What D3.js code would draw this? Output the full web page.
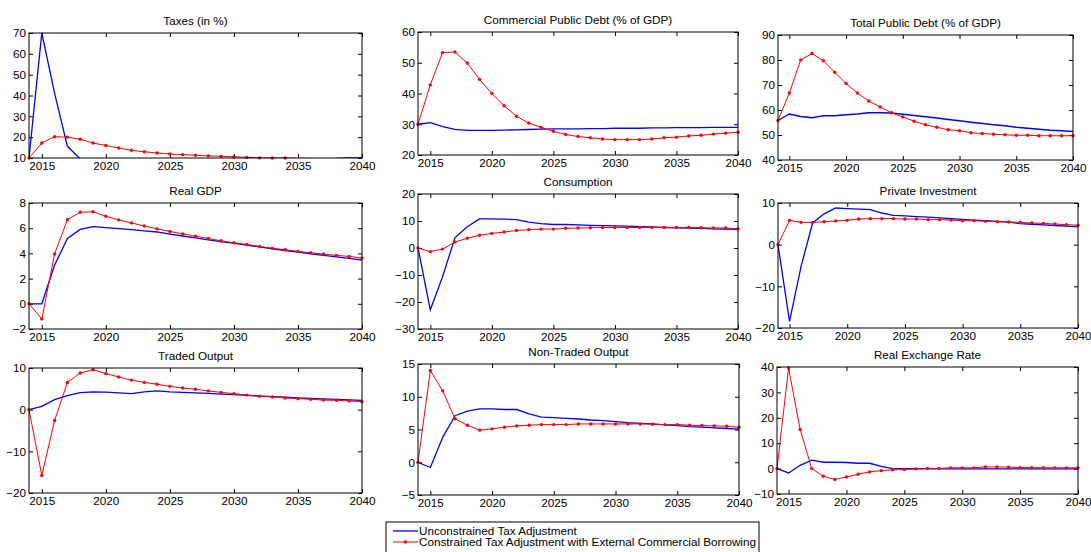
<!DOCTYPE html>
<html>
<head>
<meta charset="utf-8">
<script src="https://cdn.jsdelivr.net/npm/d3@7"></script>
<style>
  body { margin: 0; background: #fff; }
  svg { display: block; }
  text { font-family: "Liberation Sans", Arial, sans-serif; }
</style>
</head>
<body>
<div id="chart"></div>
<script>
"use strict";

// x categories
var years = [2014, 2015, 2016, 2017, 2018, 2019, 2020, 2021, 2022, 2023, 2024, 2025, 2026, 2027,
  2028, 2029, 2030, 2031, 2032, 2033, 2034, 2035, 2036, 2037, 2038, 2039, 2040];
var xTicks = [2015, 2020, 2025, 2030, 2035, 2040];

// series: U = unconstrained tax adjustment, C = constrained with external commercial borrowing
var taxesU = [10, 70, 41, 15.6, 9.6, 8.5, 7.6, 7.2, 7.0, 7.0, 7.1, 7.3, 7.5, 7.7, 7.9, 8.1, 8.3, 8.5, 8.7, 8.9, 9.1, 9.3, 9.5, 9.7, 9.8, 10.05, 10.1];
var taxesC = [10, 17.2, 20.2, 20, 19, 17.2, 16, 14.8, 13.7, 13, 12.4, 11.9, 11.6, 11.3, 11, 10.8, 10.6, 10.3, 10.05, 10.02, 10.0, 9.9, 9.8, 9.75, 9.7, 9.65, 9.6];

var comDebtU = [30, 30.5, 29.2, 28.3, 28, 28, 28, 28.1, 28.2, 28.3, 28.4, 28.5, 28.5, 28.5, 28.6, 28.6, 28.7, 28.7, 28.7, 28.8, 28.8, 28.9, 28.9, 28.9, 29, 29, 29];
var comDebtC = [30, 42.8, 53.3, 53.5, 49.9, 44.6, 40, 36, 32.6, 30.4, 29, 27.7, 26.7, 26, 25.6, 25.2, 25, 25, 25, 25.2, 25.6, 25.8, 26.2, 26.4, 26.8, 27.1, 27.4];

var totDebtU = [55.8, 58.4, 57.4, 56.9, 57.7, 57.7, 58.1, 58.4, 58.9, 58.9, 58.8, 58.3, 57.8, 57.3, 56.8, 56.2, 55.7, 55.1, 54.6, 54.1, 53.7, 53.1, 52.7, 52.3, 51.9, 51.7, 51.4];
var totDebtC = [55.8, 66.8, 80, 82.6, 79.7, 75.1, 70.6, 66.8, 63.6, 61.2, 58.9, 57.2, 55.5, 54.1, 53.1, 52.1, 51.7, 50.9, 50.6, 50.3, 50.1, 49.9, 49.9, 49.7, 49.7, 49.7, 49.7];

var gdpU = [0, 0, 3.08, 5.18, 5.9, 6.13, 6.05, 5.97, 5.88, 5.79, 5.7, 5.53, 5.38, 5.23, 5.08, 4.93, 4.79, 4.65, 4.51, 4.37, 4.23, 4.1, 3.97, 3.84, 3.72, 3.6, 3.47];
var gdpC = [0, -1.2, 3.95, 6.68, 7.26, 7.3, 6.95, 6.66, 6.42, 6.18, 5.95, 5.74, 5.55, 5.37, 5.18, 5, 4.84, 4.71, 4.55, 4.4, 4.29, 4.16, 4.05, 3.95, 3.84, 3.76, 3.63];

var consU = [0, -22.9, -10.6, 3.8, 7.9, 10.8, 10.8, 10.7, 10.5, 9.6, 9, 8.7, 8.7, 8.6, 8.4, 8.3, 8.2, 8.1, 7.9, 7.8, 7.6, 7.5, 7.4, 7.3, 7.1, 7.0, 6.9];
var consC = [0, -1.35, -0.4, 2.2, 3.6, 4.7, 5.4, 5.9, 6.5, 6.8, 7, 7, 7.3, 7.4, 7.5, 7.6, 7.6, 7.6, 7.6, 7.6, 7.6, 7.6, 7.6, 7.5, 7.4, 7.4, 7.1];

var invU = [0, -18.4, -5.2, 5.2, 7.4, 8.8, 8.65, 8.55, 8.4, 7.6, 7.05, 6.9, 6.75, 6.6, 6.45, 6.25, 6.05, 5.9, 5.75, 5.6, 5.4, 5.05, 4.9, 4.75, 4.6, 4.45, 4.25];
var invC = [0, 5.84, 5.36, 5.36, 5.5, 5.7, 5.84, 6.15, 6.25, 6.25, 6.25, 6.15, 6.15, 6, 6, 5.9, 5.75, 5.75, 5.6, 5.5, 5.45, 5.35, 5.2, 5.1, 4.95, 4.8, 4.65];

var tradedU = [0, 0.8, 2.4, 3.35, 4.1, 4.25, 4.2, 4.05, 3.85, 4.25, 4.5, 4.25, 4.15, 4.05, 3.9, 3.75, 3.6, 3.45, 3.3, 3.15, 3.0, 2.85, 2.7, 2.6, 2.45, 2.35, 2.25];
var tradedC = [0, -15.8, -2.6, 6.55, 8.8, 9.6, 8.65, 7.85, 7.1, 6.55, 6.1, 5.6, 5.2, 4.9, 4.5, 4.15, 3.85, 3.5, 3.2, 3.05, 2.8, 2.65, 2.5, 2.3, 2.25, 2.1, 1.9];

var nonTradedU = [0, -0.8, 3.8, 7.1, 7.8, 8.15, 8.15, 8.05, 8.05, 7.4, 6.9, 6.8, 6.7, 6.6, 6.45, 6.35, 6.2, 6.05, 5.95, 5.85, 5.7, 5.6, 5.45, 5.35, 5.25, 5.15, 5.05];
var nonTradedC = [0, 14, 10.9, 6.65, 5.65, 4.9, 5.1, 5.35, 5.55, 5.65, 5.75, 5.75, 5.75, 5.85, 5.85, 5.85, 5.85, 5.85, 5.85, 5.8, 5.75, 5.75, 5.65, 5.6, 5.55, 5.5, 5.35];

var rerU = [0, -1.7, 1.3, 3.3, 2.5, 2.5, 2.4, 2.1, 2.1, 0.9, 0, 0, -0.05, -0.1, -0.1, -0.1, -0.1, -0.1, -0.1, -0.1, -0.1, -0.1, -0.1, -0.1, -0.1, -0.1, -0.1];
var rerC = [0, 39.6, 15.4, 0, -3, -4.3, -3.3, -2.2, -1.3, -0.8, -0.5, -0.4, -0.1, 0.1, 0.1, 0.3, 0.3, 0.3, 0.65, 0.65, 0.6, 0.4, 0.35, 0.35, 0.3, 0.3, 0.3];

var titles = ["Taxes (in %)", "Commercial Public Debt (% of GDP)", "Total Public Debt (% of GDP)",
  "Real GDP", "Consumption", "Private Investment",
  "Traded Output", "Non-Traded Output", "Real Exchange Rate"];
var yDomains = [[10, 70], [20, 60], [40, 90], [-2, 8], [-30, 20], [-20, 10], [-20, 10], [-5, 15], [-10, 40]];
var yTicks = [[10, 20, 30, 40, 50, 60, 70], [20, 30, 40, 50, 60], [40, 50, 60, 70, 80, 90],
  [-2, 0, 2, 4, 6, 8], [-30, -20, -10, 0, 10, 20], [-20, -10, 0, 10],
  [-20, -10, 0, 10], [-5, 0, 5, 10, 15], [-10, 0, 10, 20, 30, 40]];
var seriesU = [taxesU, comDebtU, totDebtU, gdpU, consU, invU, tradedU, nonTradedU, rerU];
var seriesC = [taxesC, comDebtC, totDebtC, gdpC, consC, invC, tradedC, nonTradedC, rerC];
var legendLabels = ["Unconstrained Tax Adjustment", "Constrained Tax Adjustment with External Commercial Borrowing"];

// axes boxes: left, top, right, bottom
var boxes = [
  [29, 33, 362, 158], [418, 32, 738, 155], [778, 35, 1073, 160],
  [29, 203, 362, 329], [418, 194, 738, 329], [778, 203, 1078, 328],
  [29, 368, 362, 493], [418, 364, 739, 495], [777, 367, 1078, 494]
];

var fontSize = 11.7;

var svg = d3.select("#chart").append("svg")
  .attr("width", 1091)
  .attr("height", 552);

function styleAxis(g, withText) {
  g.select(".domain").remove();
  g.selectAll("line").attr("stroke", "#000");
  g.selectAll("text")
    .attr("fill", "#000")
    .attr("font-size", withText ? fontSize : 0)
    .attr("font-family", "'Liberation Sans', Arial, sans-serif");
}

titles.forEach(function(title, i) {
  var b = boxes[i];
  var w = b[2] - b[0], h = b[3] - b[1];

  var x = d3.scaleLinear().domain([2014, 2040]).range([0, w]);
  var y = d3.scaleLinear().domain(yDomains[i]).range([h, 0]);

  var panel = svg.append("g").attr("transform", "translate(" + b[0] + "," + b[1] + ")");

  svg.append("clipPath").attr("id", "clip" + i)
    .append("rect").attr("width", w).attr("height", h);

  // ticks on four sides, pointing inside
  panel.append("g").attr("transform", "translate(0," + h + ")")
    .call(d3.axisBottom(x).tickValues(xTicks).tickFormat(d3.format("d")).tickSize(-4).tickSizeOuter(0).tickPadding(4))
    .call(styleAxis, true);
  panel.append("g")
    .call(d3.axisTop(x).tickValues(xTicks).tickFormat("").tickSize(-4).tickSizeOuter(0))
    .call(styleAxis, false);
  panel.append("g")
    .call(d3.axisLeft(y).tickValues(yTicks[i]).tickSize(-4).tickSizeOuter(0).tickPadding(3))
    .call(styleAxis, true);
  panel.append("g").attr("transform", "translate(" + w + ",0)")
    .call(d3.axisRight(y).tickValues(yTicks[i]).tickFormat("").tickSize(-4).tickSizeOuter(0))
    .call(styleAxis, false);

  var line = d3.line()
    .x(function(d, k) { return x(years[k]); })
    .y(function(d) { return y(d); });

  var plot = panel.append("g").attr("clip-path", "url(#clip" + i + ")");

  plot.append("path")
    .datum(seriesU[i])
    .attr("d", line)
    .attr("fill", "none")
    .attr("stroke", "#0000ff")
    .attr("stroke-width", 1.3);

  plot.append("path")
    .datum(seriesC[i])
    .attr("d", line)
    .attr("fill", "none")
    .attr("stroke", "#ff0000")
    .attr("stroke-width", 1);

  var dom = yDomains[i];
  panel.selectAll(".dot")
    .data(seriesC[i].map(function(v, k) { return [years[k], v]; })
      .filter(function(p) { return p[1] >= dom[0] && p[1] <= dom[1]; }))
    .enter().append("circle")
    .attr("cx", function(p) { return x(p[0]); })
    .attr("cy", function(p) { return y(p[1]); })
    .attr("r", 1.7)
    .attr("fill", "#ff0000");

  panel.append("rect")
    .attr("width", w)
    .attr("height", h)
    .attr("fill", "none")
    .attr("stroke", "#000")
    .attr("stroke-width", 1);

  panel.append("text")
    .attr("x", w / 2)
    .attr("y", -8)
    .attr("text-anchor", "middle")
    .attr("font-size", fontSize)
    .attr("fill", "#000")
    .text(title);
});

// Legend
var legend = svg.append("g").attr("transform", "translate(386,522)");
legend.append("rect")
  .attr("width", 373)
  .attr("height", 40)
  .attr("fill", "#fff")
  .attr("stroke", "#000");

var legendColors = ["#0000ff", "#ff0000"];
legendLabels.forEach(function(label, k) {
  var ly = 9 + k * 11;
  legend.append("line")
    .attr("x1", 7).attr("x2", 32)
    .attr("y1", ly).attr("y2", ly)
    .attr("stroke", legendColors[k])
    .attr("stroke-width", k === 0 ? 1.3 : 1);
  if (k === 1) {
    legend.append("circle")
      .attr("cx", 19.5).attr("cy", ly).attr("r", 1.7)
      .attr("fill", "#ff0000");
  }
  legend.append("text")
    .attr("x", 33)
    .attr("y", ly + 4)
    .attr("font-size", fontSize)
    .attr("fill", "#000")
    .text(label);
});
</script>
</body>
</html>
